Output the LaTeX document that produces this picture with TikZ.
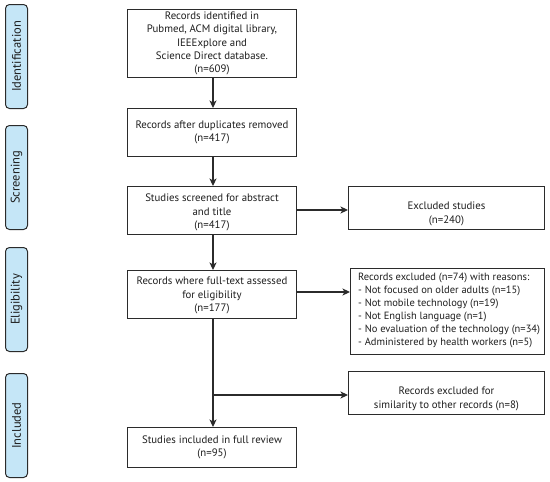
\documentclass[tikz,border=0pt]{standalone}
\usepackage{fontspec}
\setmainfont{PT Sans}
\usetikzlibrary{arrows.meta}
\definecolor{lineg}{HTML}{2B2B2B}
\definecolor{textc}{HTML}{1E1E1E}
\definecolor{sidefill}{HTML}{C5E6F7}
\tikzset{
  box/.style={draw=lineg, line width=1pt, fill=white, inner sep=0pt, anchor=north west, align=center},
  side/.style={draw=lineg, line width=1pt, fill=sidefill, rounded corners=4pt, anchor=north west, minimum width=22pt, inner sep=0pt},
  sidetext/.style={rotate=90, font=\fontsize{12.5}{14}\selectfont, text=textc},
  txt/.style={font=\fontsize{10.8}{13.3}\selectfont, align=center, inner sep=0pt, text=textc},
  conn/.style={draw=lineg, line width=1.1pt},
  arr/.style={conn, -{Stealth[length=7.5pt, width=7pt, inset=2pt]}}
}
\begin{document}
\begin{tikzpicture}[x=1pt, y=-1pt]
\useasboundingbox (0,0) rectangle (550,482);
% side labels
\node[side, minimum height=104pt] (s1) at (5,4) {};
\node[sidetext] at (s1.center) {Identification};
\node[side, minimum height=104pt] (s2) at (5,125) {};
\node[sidetext] at (s2.center) {Screening};
\node[side, minimum height=104pt] (s3) at (5,247) {};
\node[sidetext] at (s3.center) {Eligibility};
\node[side, minimum height=104pt] (s4) at (5,373) {};
\node[sidetext] at (s4.center) {Included};
% main boxes
\node[box, minimum width=169pt, minimum height=68pt] (b1) at (127,9) {};
\node[txt] at (b1.center) {Records identified in\\Pubmed, ACM digital library,\\IEEExplore and\\Science Direct database.\\(n=609)};
\node[box, minimum width=169pt, minimum height=48pt] (b2) at (127,108) {};
\node[txt] at (b2.center) {Records after duplicates removed\\(n=417)};
\node[box, minimum width=169pt, minimum height=48pt] (b3) at (127,186) {};
\node[txt] at ([yshift=-2pt]b3.center) {Studies screened for abstract\\and title\\(n=417)};
\node[box, minimum width=169pt, minimum height=48pt] (b4) at (127,270) {};
\node[txt] at ([yshift=-1pt]b4.center) {Records where full-text assessed\\for eligibility\\(n=177)};
\node[box, minimum width=169pt, minimum height=40pt] (b5) at (127,427) {};
\node[txt] at (b5.center) {Studies included in full review\\(n=95)};
% right boxes
\node[box, minimum width=196pt, minimum height=43pt] (r1) at (348,186) {};
\node[txt] at ([yshift=-6pt]r1.center) {Excluded studies\\(n=240)};
\node[box, minimum width=194pt, minimum height=86pt] (r2) at (350,268) {};
\node[txt, font=\fontsize{10.5}{13.1}\selectfont, align=left, anchor=west] at ([xshift=8pt,yshift=1pt]r2.west) {Records excluded (n=74) with reasons:\\- Not focused on older adults (n=15)\\- Not mobile technology (n=19)\\- Not English language (n=1)\\- No evaluation of the technology (n=34)\\- Administered by health workers (n=5)};
\node[box, minimum width=196pt, minimum height=43pt] (r3) at (348,371) {};
\node[txt] at ([yshift=-6pt]r3.center) {Records excluded for\\similarity to other records (n=8)};
% connectors
\draw[arr] (b1.south -| 213,0) -- (b2.north -| 213,0);
\draw[arr] (b2.south -| 213,0) -- (b3.north -| 213,0);
\draw[arr] (b3.south -| 213,0) -- (b4.north -| 213,0);
\draw[arr] (b4.south -| 213,0) -- (b5.north -| 213,0);
\draw[arr] (b3.east |- 0,210) -- (r1.west |- 0,210);
\draw[arr] (b4.east |- 0,292) -- (r2.west |- 0,292);
\coordinate (br) at (213,395);
\draw[arr] (br) -- (r3.west |- br);
\end{tikzpicture}
\end{document}
